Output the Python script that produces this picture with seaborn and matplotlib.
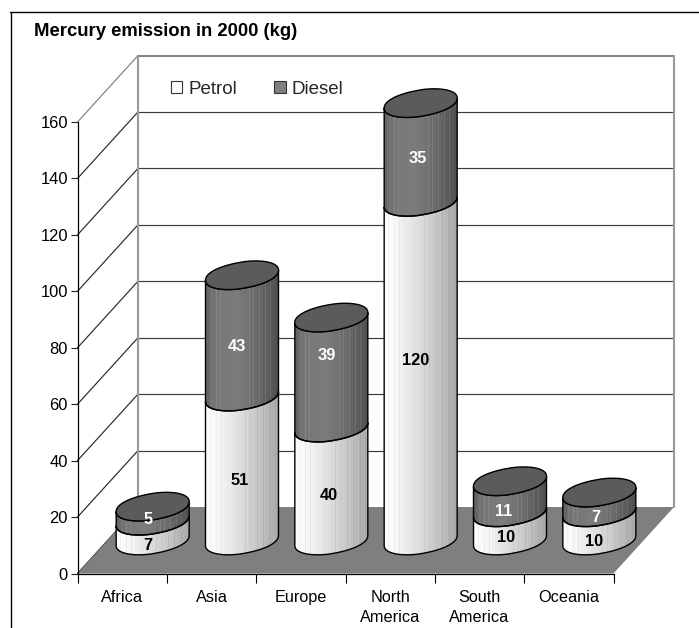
import numpy as np
import matplotlib
matplotlib.use("Agg")
import matplotlib.pyplot as plt
from matplotlib.patches import PathPatch, Patch, Polygon
from matplotlib.path import Path
from matplotlib.transforms import Affine2D
from matplotlib.lines import Line2D
import seaborn as sns

regions = ["Africa", "Asia", "Europe", "North\nAmerica", "South\nAmerica", "Oceania"]
petrol = [7, 51, 40, 120, 10, 10]
diesel = [5, 43, 39, 35, 11, 7]
y_ticks = [0, 20, 40, 60, 80, 100, 120, 140, 160]
title = "Mercury emission in 2000 (kg)"

# label nudges in pixels (x, y downward)
petrol_nudge = [(-5, 14.5), (-2, 11.5), (-3, 11.5), (-5, -10.5), (-4, 11.5), (-5, 15.5)]
diesel_nudge = [(-5, 5.5), (-5, 10.5), (-5, -17.5), (-3, 6.5), (-6, 14.5), (-4, 15.5)]

W, H = 699, 628
sns.set_style("white")
plt.rcParams["font.family"] = ["Liberation Sans", "DejaVu Sans"]

fig = plt.figure(figsize=(W / 100, H / 100), dpi=100)
L, R, B, T = 77.5, 613.5, 573.5, 122.0
ax = fig.add_axes([L / W, 1 - B / H, (R - L) / W, (B - T) / H])
ax.set_facecolor("none")

sns.barplot(x=regions, y=petrol, color="#e8e8e8", saturation=1, width=0.817, ax=ax,
            linewidth=0, zorder=3)
n_p = len(ax.patches)
sns.barplot(x=regions, y=diesel, bottom=petrol, color="#6e6e6e", saturation=1, width=0.817,
            ax=ax, linewidth=0, zorder=3)
bar_list = list(ax.patches)

ax.set_xlim(-0.5, 5.5)
ax.set_ylim(0, 160)
px_x = (R - L) / 6
px_y = (B - T) / 160
dx_back, dy_back = 60.5 / px_x, 66.5 / px_y
dx_mid, dy_mid = 30.5 / px_x, 33.0 / px_y
a = 36.5 / px_x
s = 5.0 / px_y
b = 13.2 / px_y

x0, x1 = -0.5, 5.5
# walls
for v in y_ticks:
    top = v == 160
    ax.plot([x0, x0 + dx_back], [v, v + dy_back], color="#808080" if top else "#2a2a2a",
            lw=0.85, clip_on=False, zorder=1)
    if v > 0:
        ax.plot([x0 + dx_back, x1 + dx_back], [v + dy_back] * 2,
                color="#808080" if top else "#3c3c3c", lw=1.4 if top else 0.85,
                clip_on=False, zorder=1)
for xx in (x0, x1):
    ax.plot([xx + dx_back] * 2, [dy_back, 160 + dy_back], color="#999999", lw=1.5,
            clip_on=False, zorder=1)
# floor
ax.add_patch(Polygon([(x0, 0), (x1, 0), (x1 + dx_back, dy_back), (x0 + dx_back, dy_back)],
                     closed=True, facecolor="#7f7f7f", edgecolor="none", clip_on=False, zorder=2))

cols = np.linspace(0, 1, 73)
def banded(ctrl_x, ctrl_y, stripes, stripe_delta):
    g = np.interp(cols, ctrl_x, ctrl_y)
    g = np.repeat(g[::3], 3)[:73]
    for p in stripes:
        g[int(p * 72)] = np.clip(g[int(p * 72)] + stripe_delta, 0, 255)
    return g[None, :] / 255.0

petrol_grad = banded([0, .12, .35, .6, .85, 1], [252, 248, 230, 208, 182, 165],
                     [.06, .14, .22, .55, .62, .72, .8, .9], -10)
diesel_grad = banded([0, .1, .4, .7, 1], [100, 118, 124, 106, 78],
                     [.08, .14, .2, .6, .66, .74, .82, .9], 14)

def sp(u, p=0.93):
    return np.sign(u) * np.abs(u) ** p

def front(cx, cy, t):
    c, n = sp(np.cos(t)), sp(np.sin(t))
    return np.column_stack([cx + a * np.cos(t), cy + s * c - b * n])

t_front = np.linspace(0, np.pi, 60)
t_all = np.linspace(0, 2 * np.pi, 120)
shift = Affine2D().translate(dx_mid, dy_mid) + ax.transData

for k, bar in enumerate(bar_list):
    cx = bar.get_x() + bar.get_width() / 2 + dx_mid
    v0 = bar.get_y() + dy_mid
    v1 = v0 + bar.get_height()
    is_petrol = k < n_p
    pts = np.vstack([front(cx, v0, t_front[::-1]), front(cx, v1, t_front)])
    outline = PathPatch(Path(np.vstack([pts, pts[:1]]), closed=True), transform=ax.transData,
                        facecolor="none", edgecolor="black", lw=1.0, clip_on=False, zorder=5)
    ax.add_patch(outline)
    bar.set_transform(shift)
    bar.set_clip_path(outline)
    bar.set_clip_box(fig.bbox)
    im = ax.imshow(petrol_grad if is_petrol else diesel_grad, cmap="gray", vmin=0, vmax=1,
                   aspect="auto", interpolation="nearest", zorder=4,
                   extent=(cx - a, cx + a, v0 - b * 1.2, v1 + b * 1.2))
    im.set_clip_path(outline)
    im.set_clip_box(fig.bbox)
    # top disc of the stack
    if not is_petrol:
        ax.fill(*front(cx, v1, t_all).T, facecolor="#5b5b5b", edgecolor="black", lw=1.0,
                clip_on=False, zorder=6)

ax.set_xlim(x0, x1)
ax.set_ylim(0, 160)

# value labels
for i in range(len(regions)):
    for val, start, nudge, col in ((petrol[i], 0, petrol_nudge[i], "black"),
                                   (diesel[i], petrol[i], diesel_nudge[i], "white")):
        ax.annotate(str(val), xy=(i + dx_mid, start + val / 2 + dy_mid), xycoords="data",
                    xytext=(nudge[0] * 0.72, -nudge[1] * 0.72), textcoords="offset points",
                    ha="center", va="center", fontsize=11.8, fontweight="bold", color=col,
                    annotation_clip=False, zorder=8)

# axes
sns.despine(ax=ax, top=True, right=True)
for sp_name in ("left", "bottom"):
    ax.spines[sp_name].set_color("black")
    ax.spines[sp_name].set_linewidth(0.9)
    ax.spines[sp_name].set_zorder(7)
ax.set_yticks(y_ticks)
ax.set_xticks(range(len(regions)), regions)
ax.set_xticks(np.arange(-0.5, 6), minor=True)
ax.tick_params(axis="y", which="major", left=True, length=5, width=0.8, pad=2,
               labelsize=11.9, color="#222222", labelcolor="black")
ax.tick_params(axis="x", which="major", bottom=False, length=0, pad=12.2, labelsize=11.7,
               labelcolor="black")
ax.tick_params(axis="x", which="minor", bottom=True, length=6.3, width=0.8, color="black")
ax.set_xlabel("")
ax.set_ylabel("")
for lab in ax.get_xticklabels():
    lab.set_linespacing(1.38)

handles = [Patch(facecolor="white", edgecolor="#333333", lw=0.8, label="Petrol"),
           Patch(facecolor="#808080", edgecolor="#333333", lw=0.8, label="Diesel")]
ax.legend(handles=handles, ncol=2, frameon=False, fontsize=13.5, loc="center left",
          bbox_to_anchor=(170.5 / W, 1 - 89 / H), bbox_transform=fig.transFigure,
          handlelength=0.63, handleheight=0.63, handletextpad=0.33, columnspacing=1.95,
          borderpad=0, borderaxespad=0)

fig.text(34 / W, 1 - 31 / H, title, fontsize=13.35, fontweight="bold", ha="left", va="center",
         color="black")

# outer frame: top and left edges only
fig.add_artist(Line2D([10.5 / W, 10.5 / W], [0, 1 - 11.5 / H], color="black", lw=1.0))
fig.add_artist(Line2D([10 / W, 1], [1 - 11.5 / H, 1 - 11.5 / H], color="black", lw=1.0))

fig.savefig("out.png", dpi=100, facecolor="white")
